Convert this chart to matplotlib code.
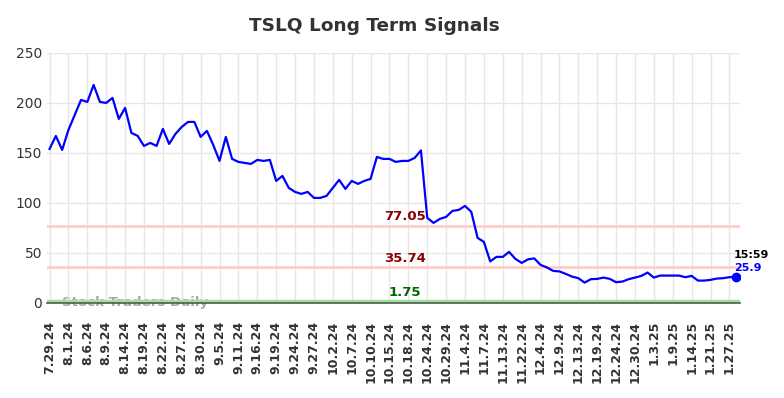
import matplotlib.pyplot as plt
import matplotlib as mpl
import numpy as np

mpl.rcParams['font.family'] = ['DejaVu Sans']

# 收盘价
prices = [154, 167, 153, 173, 188, 203, 201, 218, 201, 200,
          205, 184, 195, 170, 167, 157, 160, 157, 174, 159,
          169, 176, 181, 181, 166, 172, 158, 142, 166, 144,
          141, 140, 139, 143, 142, 143, 122, 127, 115, 111,
          109, 111, 105, 105, 107, 115, 123, 114, 122, 119,
          122, 124, 146, 144, 144, 141, 142, 142, 145, 152.5,
          85, 80, 84, 86, 92, 93, 97, 91, 65, 61,
          41.5, 46, 46, 51, 44, 40, 43.5, 44.5, 38, 35.5,
          32, 31.5, 29, 26.3, 24.7, 20.3, 23.7, 24, 25.3, 24,
          20.7, 21.3, 23.7, 25.3, 27, 30.3, 25.3, 27.3, 27.3, 27.3,
          27.3, 25.7, 27, 22.3, 22.3, 23, 24.3, 24.7, 25.7, 25.9]

tick_labels = ['7.29.24', '8.1.24', '8.6.24', '8.9.24', '8.14.24', '8.19.24',
               '8.22.24', '8.27.24', '8.30.24', '9.5.24', '9.11.24', '9.16.24',
               '9.19.24', '9.24.24', '9.27.24', '10.2.24', '10.7.24', '10.10.24',
               '10.15.24', '10.18.24', '10.24.24', '10.29.24', '11.4.24', '11.7.24',
               '11.13.24', '11.22.24', '12.4.24', '12.9.24', '12.13.24', '12.19.24',
               '12.24.24', '12.30.24', '1.3.25', '1.9.25', '1.14.25', '1.21.25',
               '1.27.25']

levels = [77.05, 35.74, 1.75]
level_colors = ['#ffcccc', '#ffcccc', '#99e699']
level_text_colors = ['#8b0000', '#8b0000', '#006400']

last_time = '15:59'

x = np.arange(len(prices))

fig = plt.figure(figsize=(7.84, 3.98), dpi=100)
ax = fig.add_axes([0.060, 0.239, 0.884, 0.628])

# 网格
ax.set_axisbelow(True)
ax.grid(True, color='#e6e6e6', lw=1)

# 水印
ax.text(2, 0.5, 'Stock Traders Daily', color='#a8a8a8', fontsize=9.6,
        fontweight='bold', ha='left', va='center', zorder=0.5)

# 支撑/阻力线
for lv, c, tc in zip(levels, level_colors, level_text_colors):
    ax.axhline(lv, color=c, lw=2 if lv > 5 else 2.5, zorder=1)
    ax.text(56.5, lv + 2.5, f'{lv:.2f}', color=tc, fontsize=9.5, fontweight='bold',
            ha='center', va='bottom', zorder=3)

ax.plot(x, prices, color='#0000ff', lw=1.6, zorder=4)
ax.plot(x[-1], prices[-1], 'o', color='#0000ff', ms=6, zorder=5)

ax.text(x[-1] - 0.3, prices[-1] + 17, last_time, color='black', fontsize=8,
        fontweight='bold', ha='left', va='bottom')
ax.text(x[-1] - 0.3, prices[-1] + 4, f'{prices[-1]}', color='#0000ff', fontsize=8,
        fontweight='bold', ha='left', va='bottom')

ax.set_xlim(-0.4, 109.7)
ax.set_ylim(0, 250)
ax.set_yticks(np.arange(0, 251, 50))
ax.set_xticks(np.arange(0, 3 * len(tick_labels), 3))
ax.set_xticklabels(tick_labels, rotation=90, fontsize=9, fontweight='bold', color='#333333')
ax.tick_params(axis='y', labelsize=10, colors='#333333', length=0)
ax.tick_params(axis='x', length=0, pad=13)

for s in ['top', 'right', 'left']:
    ax.spines[s].set_visible(False)
ax.spines['bottom'].set_color('#555555')
ax.spines['bottom'].set_linewidth(1.2)

fig.text(0.478, 0.935, 'TSLQ Long Term Signals', ha='center', va='center',
         fontsize=13.3, fontweight='bold', color='#333333')

fig.savefig('out.png', dpi=100)
